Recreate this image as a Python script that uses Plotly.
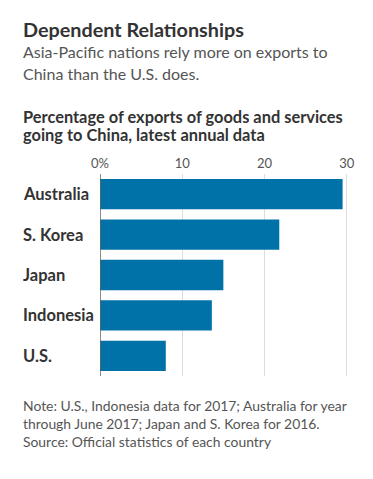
import plotly.graph_objects as go

countries = ["Australia", "S. Korea", "Japan", "Indonesia", "U.S."]
shares = [29.5, 21.8, 15.0, 13.6, 8.0]
tick_vals = [0, 10, 20, 30]
tick_labels = ["0%", "10", "20", "30"]

title = "Dependent Relationships"
subtitle = ["Asia-Pacific nations rely more on exports to", "China than the U.S. does."]
chart_title = ["Percentage of exports of goods and services", "going to China, latest annual data"]
notes = ["Note: U.S., Indonesia data for 2017; Australia for year",
         "through June 2017; Japan and S. Korea for 2016.",
         "Source: Official statistics of each country"]

W, H = 373, 479
L, R, T, B = 100, 22.5, 174, 103
PW, PH = W - L - R, H - T - B
FONT = "Lato"
BAR = "#0072A8"

def px(p):
    return (p - L) / PW

def py(p):
    return (H - B - p) / PH

fig = go.Figure(go.Bar(
    x=shares, y=countries, orientation="h",
    marker=dict(color=BAR, line=dict(width=0)),
    width=0.75, hoverinfo="skip",
))

ann = []
def text(s, x, y, size, color, bold=False):
    ann.append(dict(text=f"<b>{s}</b>" if bold else s, x=px(x), y=py(y), xref="paper", yref="paper",
                    xanchor="left", yanchor="middle", showarrow=False,
                    font=dict(family=FONT, size=size, color=color)))

text(title, 21, 29, 19.8, "#333333", bold=True)
for s, y in zip(subtitle, [52, 73]):
    text(s, 21, y, 16, "#555555")
for s, y in zip(chart_title, [116, 134]):
    text(s, 21, y, 16.4, "#333333", bold=True)
for s, y in zip(notes, [405.5, 423, 441.5]):
    text(s, 21, y, 13.9, "#555555")

for c in countries:
    ann.append(dict(text=f"<b>{c}</b>", x=px(21), y=c, xref="paper", yref="y",
                    xanchor="left", yanchor="middle", showarrow=False,
                    font=dict(family=FONT, size=16.5, color="#333333")))

fig.update_layout(
    width=W, height=H, autosize=False,
    margin=dict(l=L, r=R, t=T, b=B, pad=0),
    paper_bgcolor="white", plot_bgcolor="white",
    showlegend=False, annotations=ann,
    font=dict(family=FONT),
    xaxis=dict(range=[0, 30.4], side="top", tickvals=tick_vals, ticktext=tick_labels,
               showgrid=True, gridcolor="#dddddd", gridwidth=1, zeroline=False,
               showline=False, ticks="", ticklabelstandoff=2,
               tickfont=dict(family=FONT, size=13, color="#555555"), fixedrange=True),
    yaxis=dict(autorange="reversed", showticklabels=False, showgrid=False,
               showline=False, zeroline=False, ticks="", fixedrange=True),
    shapes=[dict(type="line", xref="x", yref="paper", x0=0, x1=0, y0=0, y1=1,
                 line=dict(color="#666666", width=1.5), layer="above")],
    bargap=0.25,
)

fig.write_html("out.html", config={"displayModeBar": False},
               post_script="document.body.style.margin='0';document.body.style.padding='0';")
